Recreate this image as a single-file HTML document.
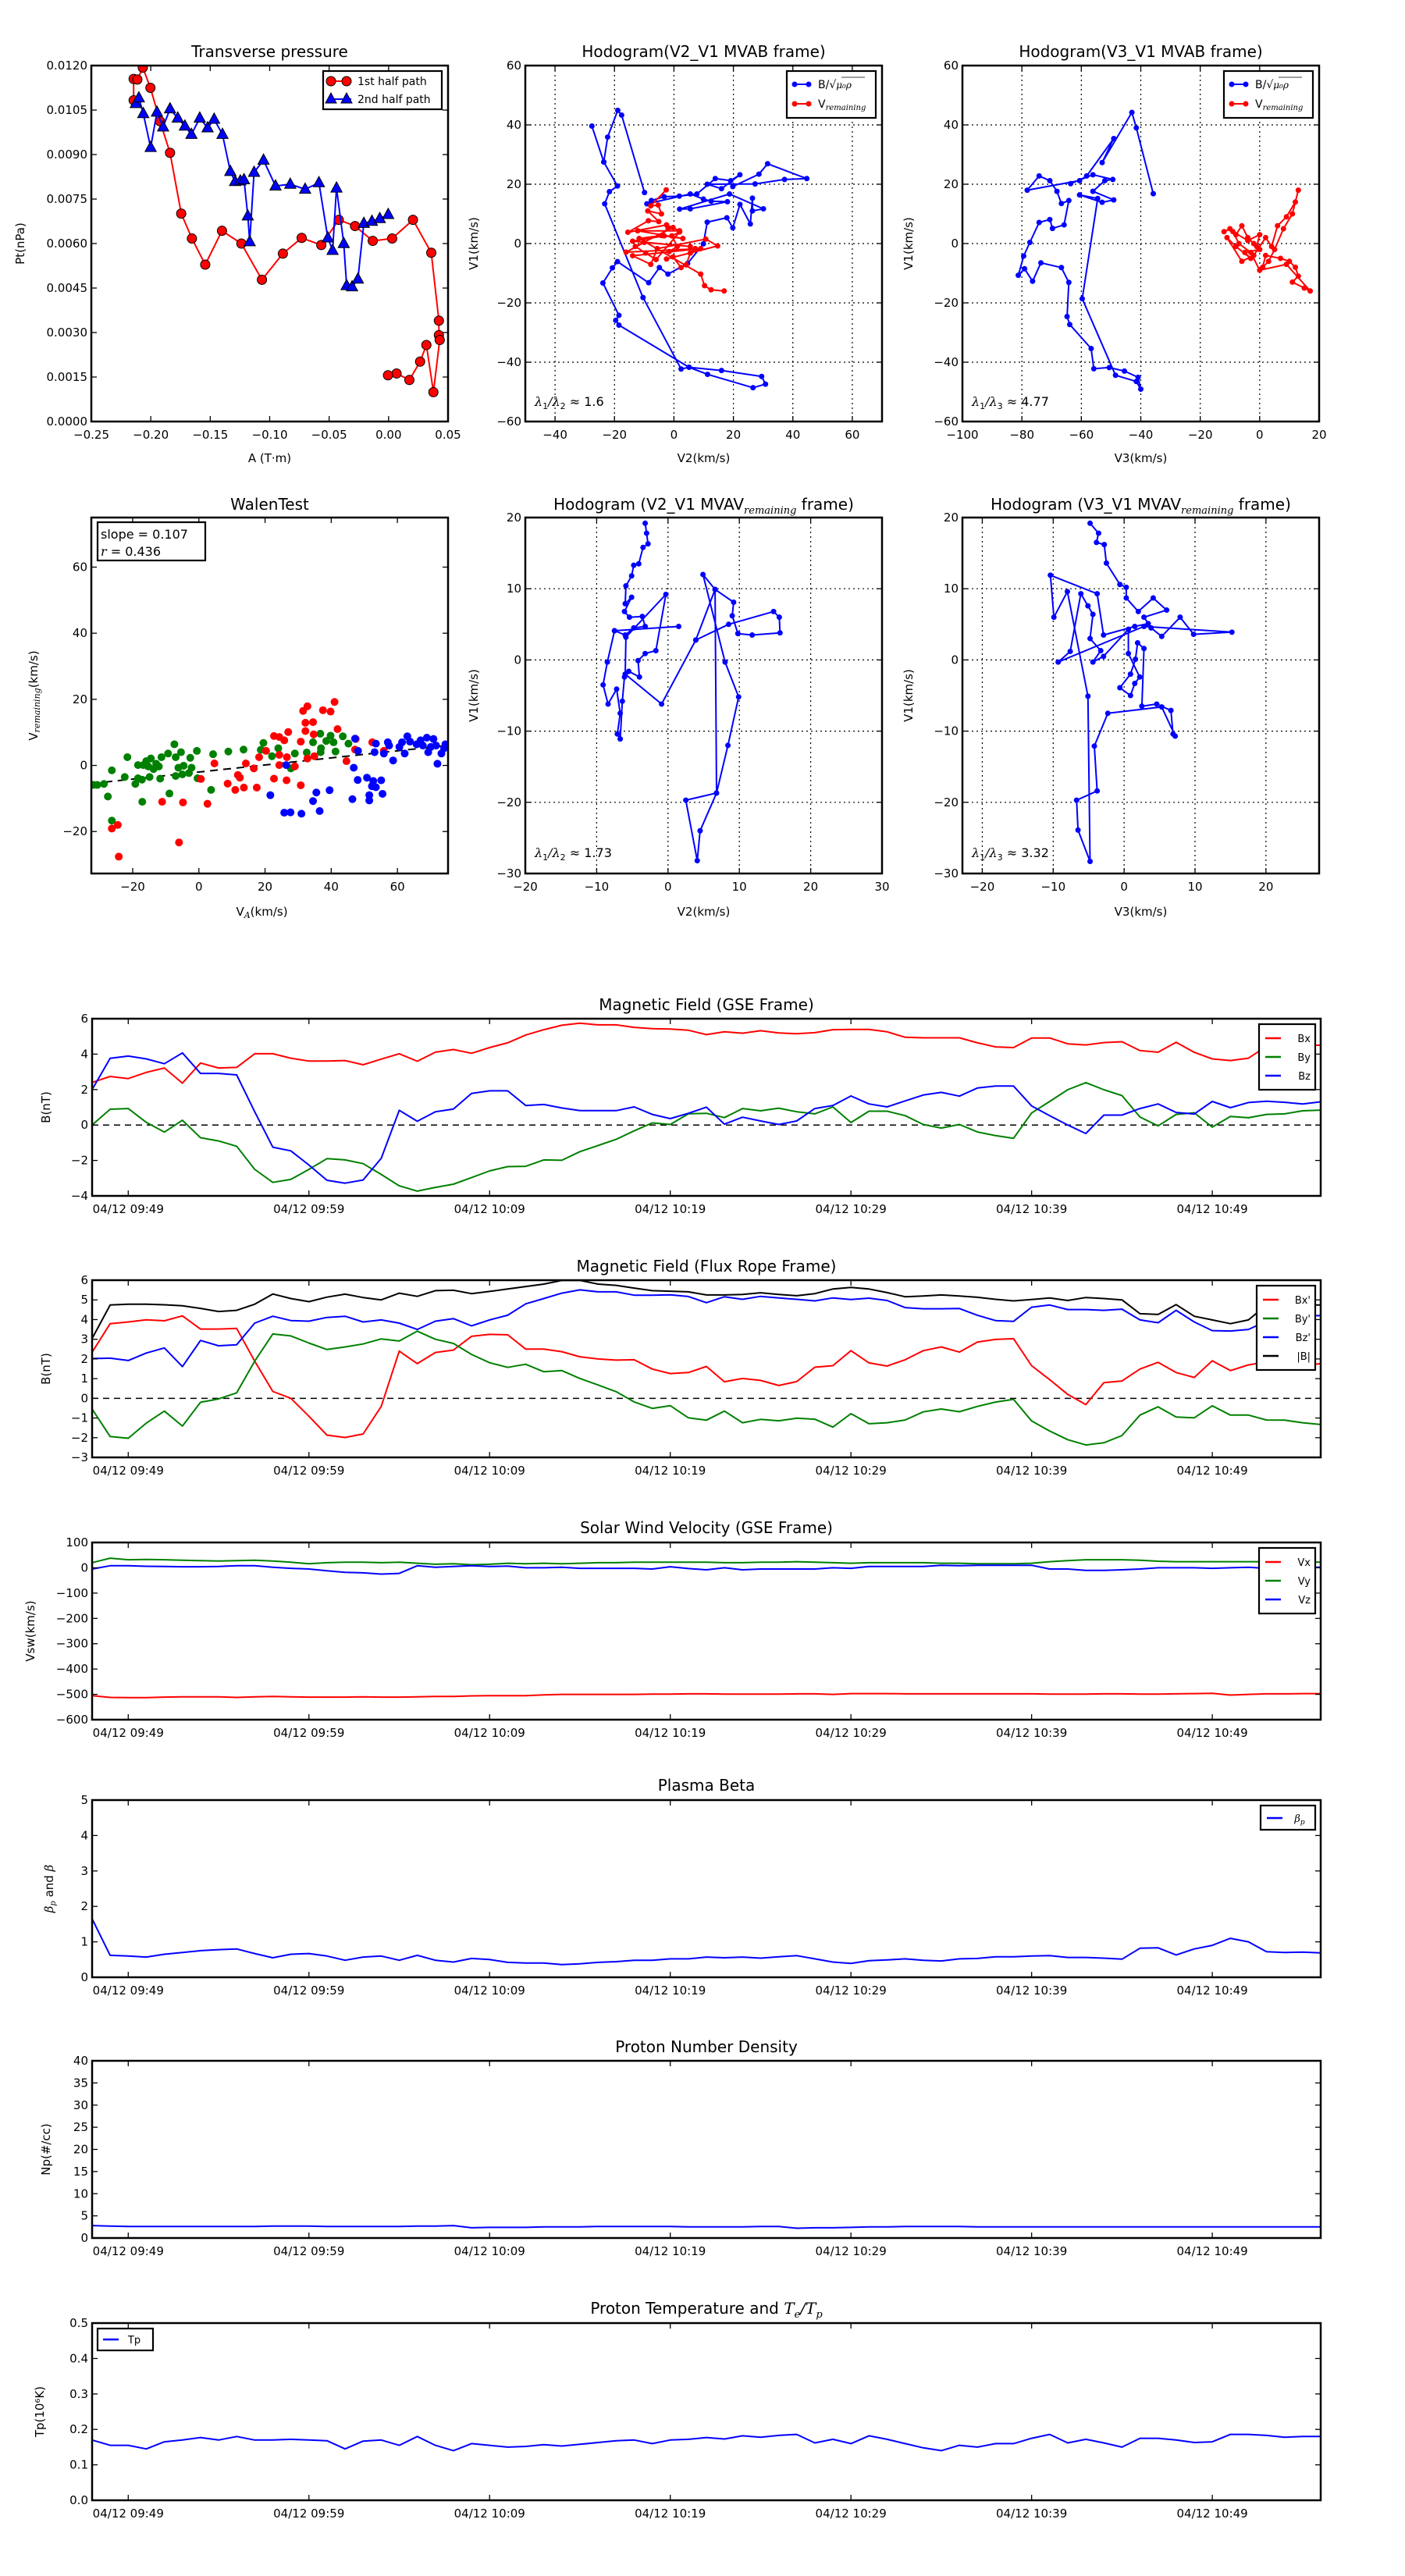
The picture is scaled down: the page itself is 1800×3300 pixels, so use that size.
<!DOCTYPE html>
<html><head><meta charset="utf-8"><style>
html,body{margin:0;padding:0;background:#fff}
svg{display:block}
text{font-family:"DejaVu Sans","Liberation Sans",sans-serif;fill:#000}
.math{font-family:"DejaVu Serif","Liberation Serif",serif;font-style:italic}
</style></head><body>
<svg id="fig" xmlns="http://www.w3.org/2000/svg" width="1800" height="3300" viewBox="0 0 1800 3300">
<rect width="1800" height="3300" fill="#fff"/>
</svg>
<script>
// ---------------- DATA ----------------
const pt1A=[-0.2144,-0.2144,-0.2113,-0.2067,-0.2003,-0.1922,-0.1838,-0.1744,-0.1654,-0.1542,-0.1401,-0.1238,-0.1065,-0.0889,-0.0731,-0.0566,-0.0419,-0.0282,-0.0133,0.003,0.0205,0.0359,0.0423,0.0423,0.043,0.0377,0.0318,0.0265,0.0175,0.0067,-0.0005];
const pt1P=[0.01083,0.01155,0.01153,0.01193,0.01125,0.01012,0.00906,0.00701,0.00617,0.00529,0.00643,0.0060,0.00478,0.00566,0.00619,0.00595,0.0068,0.00659,0.00609,0.00617,0.0068,0.00569,0.0034,0.00291,0.00275,0.00099,0.00258,0.00202,0.0014,0.00162,0.00156];
const pt2A=[-0.2126,-0.21,-0.2063,-0.2001,-0.1948,-0.1896,-0.1838,-0.1773,-0.1713,-0.1658,-0.1588,-0.1522,-0.1467,-0.1397,-0.1331,-0.1291,-0.1247,-0.1216,-0.1184,-0.1168,-0.1131,-0.1052,-0.0951,-0.0827,-0.0702,-0.0586,-0.0511,-0.0471,-0.0438,-0.0377,-0.0353,-0.0307,-0.0258,-0.0208,-0.014,-0.0074,-0.0003];
const pt2P=[0.01072,0.01091,0.01038,0.00924,0.01043,0.00993,0.01054,0.01023,0.00996,0.00968,0.01023,0.0099,0.01019,0.00968,0.00843,0.00809,0.00811,0.00815,0.00693,0.00606,0.0084,0.00881,0.00794,0.008,0.00783,0.00805,0.00619,0.00577,0.00787,0.006,0.00458,0.00454,0.0048,0.00668,0.00675,0.00684,0.00698];

const hodo1B=[[-9.9,17.2],[-17.6,43.3],[-18.9,44.9],[-22.3,35.9],[-23.6,27.5],[-27.6,39.6],[-23.6,27.5],[-19.0,19.4],[-21.7,17.5],[-23.3,13.4],[-10.4,-18.2],[2.4,-42.3],[5.1,-41.7],[16.0,-42.8],[29.5,-44.8],[30.8,-47.4],[26.6,-48.6],[11.3,-44.1],[5.1,-41.7],[-18.5,-27.5],[-19.6,-25.9],[-18.5,-24.2],[-23.9,-13.3],[-20.7,-8.2],[-19.0,-6.1],[-8.5,-13.2],[-4.9,-8.1],[-2.0,-10.3],[4.6,-6.7],[9.9,-0.1],[11.2,7.2],[17.8,8.7],[19.8,5.3],[22.2,13.2],[25.7,6.6],[26.4,15.3],[26.4,11.0],[30.1,11.7],[18.7,16.7],[1.9,11.6],[5.5,11.7],[18.0,14.1],[12.5,14.3],[9.9,15.0],[5.5,16.7],[-9.1,13.4],[-7.6,14.5],[-3.3,15.8],[1.8,16.0],[7.7,16.7],[13.9,21.9],[19.1,21.2],[22.2,23.2],[16.0,18.5],[11.2,20.0],[27.3,20.1],[37.2,21.6],[44.7,21.9],[31.5,26.9],[28.6,23.4],[19.8,19.2]];
const hodo1V=[[-2.6,18.1],[-7.8,12.7],[-5.3,13.0],[-4.2,10.0],[-8.8,11.0],[-5.1,7.4],[-8.6,7.7],[-15.5,3.8],[-2.5,6.3],[1.9,4.3],[-12.2,4.3],[3.0,1.7],[-3.3,2.6],[-13.9,0.8],[5.5,-1.0],[-10.0,0.4],[-16.1,-2.9],[9.0,-1.7],[-13.9,-4.1],[-7.8,-7.0],[-5.6,-1.7],[10.7,1.5],[14.7,-0.8],[-2.5,-5.2],[-0.3,-4.5],[2.4,-8.1],[4.1,-7.2],[5.5,-3.2],[7.2,-1.7],[-1.6,-2.7],[1.1,-1.0],[-0.7,2.6],[1.9,3.9],[-6.0,-5.4],[-9.5,-3.2],[-13.0,-1.0],[-0.3,5.4],[-2.0,5.2],[-4.2,2.7],[-11.7,1.7],[9.0,-10.3],[10.3,-14.2],[12.5,-15.6],[16.9,-16.0]];
const hodo2B=[[-35.8,16.8],[-41.5,39.0],[-43.0,44.2],[-53.0,27.3],[-49.1,35.4],[-58.2,22.8],[-60.6,21.2],[-78.2,18.0],[-74.2,22.8],[-70.6,21.2],[-68.2,17.6],[-66.7,13.5],[-64.2,14.5],[-65.8,6.3],[-69.7,5.1],[-70.6,8.1],[-74.2,7.1],[-77.3,0.4],[-79.4,-4.2],[-81.2,-10.7],[-79.1,-8.5],[-76.4,-12.7],[-73.6,-6.5],[-66.7,-8.1],[-64.2,-13.1],[-64.8,-24.6],[-63.9,-27.3],[-56.7,-35.4],[-55.8,-42.2],[-50.6,-41.8],[-45.5,-43.0],[-40.9,-45.1],[-40.0,-49.1],[-41.5,-46.5],[-48.5,-44.4],[-59.7,-18.6],[-54.5,15.2],[-60.6,16.4],[-53.0,13.9],[-49.1,14.7],[-56.1,17.6],[-52.1,21.2],[-49.4,21.6],[-56.1,23.2],[-63.6,20.2]];
const hodo2V=[[-12,4],[-10,5],[-8,3],[-6,6],[-4,2],[-2,0],[0,-2],[-5,-3],[-3,-5],[-8,-1],[-11,2],[-6,-6],[-2,-4],[2,2],[4,-1],[6,6],[9,9],[12,14],[13,18],[11,10],[8,5],[5,-2],[3,-6],[1,-8],[2,-4],[7,-5],[10,-6],[12,-8],[13,-11],[11,-13],[15,-15],[17,-16],[9,-7],[0,-9],[-3,-3],[-7,0],[-9,4],[-4,1],[0,3],[-1,-1]];
const hodo3B=[[-3.2,19.2],[-3.0,17.8],[-2.8,16.3],[-3.5,15.8],[-4.1,13.5],[-4.8,13.3],[-5.1,11.8],[-5.9,10.4],[-6.0,7.9],[-5.1,8.8],[-6.1,6.8],[-5.4,6.0],[-3.6,6.1],[-3.2,4.7],[-4.8,4.5],[-6.0,3.5],[-7.5,4.1],[1.5,4.7],[-7.5,4.1],[-8.5,-0.3],[-9.1,-3.5],[-8.4,-6.2],[-7.2,-4.1],[-6.7,-7.5],[-7.1,-10.4],[-6.7,-11.1],[-6.4,-5.8],[-6.1,-2.4],[-5.5,-1.6],[-4.0,-2.4],[-4.2,-0.1],[-3.2,0.9],[-1.7,1.3],[-0.3,9.2],[-5.9,3.2],[-6.0,-2.0],[-0.9,-6.2],[3.9,2.8],[6.6,9.9],[4.9,12.0],[8.0,-0.3],[9.9,-5.2],[8.4,-12.0],[6.8,-18.7],[2.5,-19.7],[4.1,-28.2],[4.5,-24.0],[6.8,-18.7],[6.6,9.9],[9.2,8.1],[9.0,6.2],[9.8,3.7],[11.8,3.5],[15.7,3.8],[15.6,6.0],[14.8,6.8],[8.5,5.0],[3.9,2.8]];
const hodo4B=[[-4.8,19.2],[-3.6,17.8],[-3.9,16.5],[-2.8,16.2],[-2.5,13.6],[-0.6,10.6],[0.3,10.2],[0.3,8.7],[2.0,6.8],[4.1,8.7],[6.0,7.0],[2.8,6.0],[3.8,4.5],[5.3,3.3],[7.9,6.0],[9.8,3.6],[15.2,3.9],[2.8,4.7],[-9.3,-0.3],[-7.6,1.2],[-6.1,9.3],[-5.1,7.6],[-4.4,6.4],[-4.8,3.0],[-3.3,1.3],[-4.4,-0.3],[-2.9,0.5],[0.6,4.3],[0.6,0.9],[2.2,-2.4],[1.5,-3.3],[0.9,-5.0],[-0.6,-3.9],[0.9,-2.0],[1.6,0.1],[1.9,2.4],[2.8,1.6],[2.5,-6.5],[4.6,-6.2],[6.6,-7.1],[6.9,-10.4],[7.2,-10.7],[5.3,-6.6],[-2.3,-7.5],[-4.2,-12.1],[-3.8,-18.4],[-6.7,-19.7],[-6.5,-23.9],[-4.8,-28.3],[-5.1,-5.1],[-8.0,9.6],[-9.9,6.0],[-10.4,11.9],[-3.8,9.3],[-2.9,3.5],[1.5,4.7],[3.4,5.1]];

const walenGreenX=[-31.9,-30.7,-28.7,-27.5,-26.3,-26.3,-22.4,-21.6,-19.2,-18.4,-18.4,-17.2,-17.1,-16.8,-15.9,-15.3,-14.9,-14.5,-13.7,-12.9,-12.1,-11.7,-11.3,-9.3,-8.9,-7.4,-7.0,-7.0,-6.2,-5.4,-5.0,-4.6,-3.0,-2.6,-2.2,-0.6,-0.4,3.7,4.3,8.9,13.5,18.7,19.5,22.1,24.0,27.8,29.0,32.6,34.5,36.7,36.9,36.8,38.5,39.8,40.7,41.3,43.5,45.2];
const walenGreenY=[-5.9,-5.9,-5.6,-9.4,-1.5,-16.7,-3.5,2.5,-5.6,0.1,-3.9,-4.3,-11.0,0.1,1.3,-0.3,-3.5,2.1,-1.1,0.5,-0.3,-4.0,2.5,3.6,-8.5,6.4,2.5,-3.2,-0.7,4.0,-2.7,-0.1,-2.3,2.3,-0.7,4.4,-3.9,-7.4,3.4,4.2,4.8,4.7,6.8,2.8,5.2,-0.9,3.6,3.9,7.0,9.6,5.2,4.0,7.4,9.0,7.0,4.2,8.8,6.6];
const walenRedX=[-26.3,-24.5,-24.2,-11.1,-6.0,-4.8,0.6,2.6,4.7,8.7,11.0,11.8,12.4,13.6,14.2,16.6,17.5,18.2,20.3,22.7,22.7,24.3,24.3,25.8,26.5,27.0,29.0,30.8,30.8,31.5,32.8,32.2,32.2,34.5,34.7,34.9,32.8,37.5,39.8,41.0,41.9,44.6,47.4,47.2,52.4,55.9,24.3,26.6];
const walenRedY=[-19.1,-18.0,-27.6,-11.0,-23.3,-11.2,-4.1,-11.6,0.6,-5.5,-7.4,-2.9,-3.7,-6.7,0.6,-0.9,-6.7,2.5,4.4,8.9,-4.0,8.6,0.1,7.6,-4.5,10.1,-0.3,7.2,-6.0,16.5,17.9,12.9,10.4,13.1,9.4,2.8,2.1,16.7,16.3,19.2,11.0,1.3,8.0,4.8,7.0,4.4,3.2,2.5];
const walenBlueX=[21.6,25.8,27.7,31.0,34.5,35.5,36.5,39.5,26.4,46.4,46.8,47.2,48.0,48.1,50.8,51.5,51.5,52.3,52.7,53.5,55.1,55.5,53.1,53.5,55.9,57.1,57.5,58.7,60.6,61.4,62.2,63.0,63.8,65.8,67.0,67.7,68.9,69.3,70.1,70.9,71.7,72.1,73.3,74.1,74.5];
const walenBlueY=[-9.0,-14.3,-14.2,-14.6,-10.8,-8.2,-13.8,-7.5,0.1,-10.2,-0.7,8.1,-4.4,4.4,-3.7,-9.0,-10.6,-6.3,-4.7,-6.6,-4.5,-8.6,4.0,6.6,3.6,7.0,6.0,1.5,5.6,7.0,3.6,8.8,7.2,6.4,7.6,6.0,8.4,4.0,5.6,8.0,6.0,0.5,3.6,5.2,6.4];
const walenSlope=0.107, walenIntercept=-2.0;

const timeLabels=["04/12 09:49","04/12 09:59","04/12 10:09","04/12 10:19","04/12 10:29","04/12 10:39","04/12 10:49"];
const timeTickMinutes=[2,12,22,32,42,52,62];
const Bx=[2.4,2.74,2.62,2.97,3.22,2.36,3.5,3.22,3.25,4.02,4.02,3.77,3.61,3.61,3.64,3.4,3.72,4.02,3.6,4.11,4.26,4.05,4.37,4.64,5.08,5.38,5.63,5.75,5.65,5.65,5.51,5.44,5.42,5.35,5.1,5.26,5.18,5.32,5.2,5.15,5.21,5.38,5.39,5.39,5.26,4.95,4.92,4.92,4.92,4.64,4.41,4.37,4.91,4.91,4.58,4.52,4.65,4.7,4.2,4.11,4.67,4.1,3.73,3.64,3.77,4.44,4.5,4.5,4.5];
const By=[0,0.89,0.93,0.15,-0.4,0.27,-0.72,-0.9,-1.2,-2.5,-3.24,-3.07,-2.5,-1.9,-1.97,-2.18,-2.79,-3.43,-3.73,-3.52,-3.34,-2.97,-2.59,-2.35,-2.33,-1.97,-1.99,-1.5,-1.16,-0.81,-0.33,0.12,0.03,0.63,0.66,0.42,0.93,0.8,0.95,0.75,0.63,1.02,0.14,0.78,0.78,0.53,0.03,-0.17,0.03,-0.39,-0.6,-0.75,0.68,1.33,1.99,2.39,1.99,1.66,0.45,-0.05,0.6,0.69,-0.12,0.48,0.41,0.6,0.63,0.8,0.84];
const Bz=[2.0,3.76,3.89,3.73,3.46,4.07,2.91,2.91,2.83,0.75,-1.25,-1.46,-2.26,-3.12,-3.28,-3.1,-1.88,0.83,0.21,0.75,0.9,1.78,1.93,1.93,1.1,1.16,0.96,0.81,0.81,0.81,1.02,0.6,0.36,0.66,1.01,0.05,0.44,0.23,0.03,0.23,0.93,1.1,1.64,1.19,1.02,1.36,1.69,1.84,1.63,2.09,2.2,2.2,1.08,0.53,0,-0.48,0.56,0.56,0.93,1.19,0.71,0.62,1.33,0.98,1.27,1.34,1.28,1.19,1.31];
const BxFR=[2.34,3.79,3.88,3.99,3.94,4.19,3.52,3.52,3.55,1.89,0.35,0,-0.91,-1.87,-1.99,-1.81,-0.41,2.4,1.76,2.33,2.45,3.15,3.25,3.23,2.5,2.5,2.37,2.11,2.0,1.94,1.96,1.49,1.26,1.31,1.62,0.84,1.01,0.91,0.65,0.85,1.58,1.66,2.42,1.8,1.64,1.96,2.42,2.61,2.35,2.86,2.99,3.03,1.66,0.95,0.2,-0.32,0.8,0.88,1.49,1.83,1.31,1.06,1.91,1.41,1.7,1.85,1.8,1.66,1.76];
const ByFR=[-0.54,-1.94,-2.03,-1.26,-0.65,-1.41,-0.2,-0.03,0.28,1.89,3.27,3.17,2.81,2.48,2.61,2.76,3.02,2.91,3.41,3.0,2.79,2.23,1.81,1.57,1.73,1.35,1.41,1.01,0.68,0.34,-0.18,-0.51,-0.37,-0.99,-1.11,-0.65,-1.24,-1.07,-1.14,-1.01,-1.06,-1.46,-0.78,-1.29,-1.24,-1.1,-0.69,-0.54,-0.68,-0.41,-0.19,-0.05,-1.15,-1.66,-2.1,-2.37,-2.26,-1.89,-0.85,-0.43,-0.95,-0.99,-0.38,-0.85,-0.85,-1.1,-1.11,-1.24,-1.33];
const BzFR=[2.02,2.04,1.92,2.3,2.56,1.61,2.94,2.67,2.72,3.82,4.17,3.95,3.92,4.11,4.17,3.88,3.98,3.82,3.5,3.92,4.05,3.68,3.98,4.22,4.8,5.07,5.34,5.51,5.41,5.41,5.24,5.24,5.26,5.17,4.86,5.16,5.03,5.18,5.1,5.03,4.95,5.1,5.02,5.09,4.97,4.61,4.55,4.55,4.56,4.22,3.95,3.91,4.63,4.74,4.51,4.51,4.47,4.53,3.98,3.84,4.47,3.88,3.44,3.42,3.5,3.92,4.2,4.2,4.2];
const Bmag=[3.04,4.74,4.78,4.78,4.75,4.7,4.57,4.41,4.47,4.78,5.3,5.07,4.91,5.14,5.29,5.12,5.0,5.34,5.18,5.47,5.49,5.32,5.43,5.55,5.68,5.8,5.99,5.99,5.8,5.74,5.6,5.47,5.44,5.41,5.25,5.25,5.28,5.36,5.28,5.21,5.32,5.55,5.63,5.55,5.37,5.16,5.2,5.25,5.2,5.13,5.03,4.95,5.02,5.1,4.97,5.12,5.07,5.0,4.3,4.26,4.76,4.17,3.98,3.79,3.98,4.74,4.74,4.74,4.74];
const Vx=[-505,-512,-513,-513,-511,-510,-510,-510,-512,-510,-508,-510,-511,-511,-511,-510,-511,-511,-510,-508,-508,-506,-505,-505,-505,-502,-500,-500,-500,-500,-500,-499,-499,-498,-498,-499,-499,-499,-499,-498,-498,-500,-497,-497,-497,-498,-498,-498,-498,-498,-498,-498,-498,-499,-499,-499,-498,-498,-499,-499,-498,-497,-496,-503,-500,-498,-498,-497,-497];
const Vy=[20,38,32,33,32,30,28,27,28,30,27,22,16,20,22,22,20,22,18,14,16,12,14,18,16,18,16,18,20,20,22,22,22,22,22,20,20,22,22,24,22,20,18,20,20,20,20,18,18,16,16,16,18,24,28,32,32,32,30,26,24,24,24,24,24,24,24,24,22];
const Vz=[-5,8,8,6,5,4,4,5,8,8,2,-2,-5,-12,-18,-20,-25,-22,8,2,5,8,5,7,0,0,2,-2,-2,-2,-2,-5,4,-3,-8,0,-8,-5,-5,-5,-5,0,-2,5,5,5,5,10,8,10,10,10,10,-5,-5,-10,-10,-8,-5,0,0,0,-2,0,2,-2,0,2,2];
const betaP=[1.65,0.62,0.6,0.57,0.65,0.7,0.75,0.78,0.8,0.67,0.55,0.65,0.67,0.6,0.48,0.57,0.6,0.48,0.62,0.48,0.43,0.53,0.5,0.42,0.4,0.4,0.36,0.38,0.42,0.44,0.48,0.48,0.52,0.52,0.57,0.55,0.57,0.54,0.58,0.61,0.52,0.43,0.39,0.47,0.49,0.52,0.48,0.46,0.52,0.53,0.58,0.58,0.6,0.61,0.56,0.56,0.54,0.51,0.82,0.83,0.63,0.8,0.9,1.1,1.0,0.72,0.7,0.71,0.69];
const Np=[2.8,2.7,2.6,2.6,2.6,2.6,2.6,2.6,2.6,2.6,2.7,2.7,2.7,2.6,2.6,2.6,2.6,2.6,2.7,2.7,2.8,2.3,2.4,2.4,2.4,2.5,2.5,2.5,2.6,2.6,2.6,2.6,2.6,2.5,2.5,2.5,2.5,2.6,2.6,2.2,2.3,2.3,2.4,2.5,2.5,2.6,2.6,2.6,2.6,2.5,2.5,2.5,2.5,2.5,2.5,2.5,2.5,2.5,2.5,2.5,2.5,2.5,2.5,2.5,2.5,2.5,2.5,2.5,2.5];
const Tp=[0.17,0.155,0.155,0.145,0.165,0.17,0.177,0.17,0.18,0.17,0.17,0.172,0.17,0.168,0.145,0.167,0.17,0.155,0.18,0.155,0.14,0.16,0.155,0.15,0.152,0.157,0.153,0.158,0.163,0.168,0.17,0.16,0.17,0.172,0.177,0.173,0.182,0.178,0.183,0.186,0.162,0.172,0.16,0.182,0.172,0.16,0.148,0.14,0.155,0.15,0.16,0.16,0.175,0.186,0.162,0.172,0.162,0.15,0.175,0.175,0.17,0.163,0.165,0.186,0.186,0.183,0.178,0.18,0.18];

// ---------------- HELPERS ----------------
const NS='http://www.w3.org/2000/svg';
const svg=document.getElementById('fig');
let clipId=0;
function el(tag,attrs,parent){const e=document.createElementNS(NS,tag);for(const k in attrs)e.setAttribute(k,attrs[k]);(parent||svg).appendChild(e);return e;}
function txt(s,x,y,size,anchor,parent,extra){const t=el('text',Object.assign({x:x,y:y,'font-size':size,'text-anchor':anchor||'middle'},extra||{}),parent);t.textContent=s;return t;}
function fmtMinus(v){return String(v).replace('-','\u2212');}

function makeAxes(c){
  const g=el('g',{});
  
  
  const sx=v=>c.x0+(v-c.xmin)/(c.xmax-c.xmin)*c.w;
  const sy=v=>c.y0+c.h-(v-c.ymin)/(c.ymax-c.ymin)*c.h;
  const id='clip'+(clipId++);
  const cp=el('clipPath',{id:id},g);el('rect',{x:c.x0,y:c.y0,width:c.w,height:c.h},cp);
  if(c.grid){
    c.xticks.forEach(v=>{const l=el('line',{x1:sx(v),x2:sx(v),y1:c.y0,y2:c.y0+c.h,stroke:'#000','stroke-width':1.2,'stroke-dasharray':'2,4'},g);});
    c.yticks.forEach(v=>{const l=el('line',{x1:c.x0,x2:c.x0+c.w,y1:sy(v),y2:sy(v),stroke:'#000','stroke-width':1.2,'stroke-dasharray':'2,4'},g);});
  }
  const plot=el('g',{'clip-path':'url(#'+id+')'},g);
  
  
  const over=el('g',{},g);
  const tl=7;
  const xl=el('g',{},over);
  
  
  c.xticks.forEach((v,i)=>{const x=sx(v);
    el('line',{x1:x,x2:x,y1:c.y0+c.h,y2:c.y0+c.h-tl,stroke:'#000','stroke-width':1.3},over);
    el('line',{x1:x,x2:x,y1:c.y0,y2:c.y0+tl,stroke:'#000','stroke-width':1.3},over);
    txt(c.xlabels?c.xlabels[i]:(c.xfmt?c.xfmt(v):fmtMinus(v)),x,c.y0+c.h+22,15,'middle',xl);});
  const yl=el('g',{},over);
  
  
  c.yticks.forEach(v=>{const y=sy(v);
    el('line',{x1:c.x0,x2:c.x0+tl,y1:y,y2:y,stroke:'#000','stroke-width':1.3},over);
    el('line',{x1:c.x0+c.w,x2:c.x0+c.w-tl,y1:y,y2:y,stroke:'#000','stroke-width':1.3},over);
    txt(c.yfmt?c.yfmt(v):fmtMinus(v),c.x0-5,y+5,15,'end',yl);});
  const fr=el('rect',{x:c.x0,y:c.y0,width:c.w,height:c.h,fill:'none',stroke:'#000','stroke-width':2.5},over);
  
  
  return {sx,sy,plot,g,over,c};
}
function polyline(ax,xs,ys,color,w,name){
  const pts=xs.map((x,i)=>ax.sx(x).toFixed(1)+','+ax.sy(ys[i]).toFixed(1)).join(' ');
  const p=el('polyline',{points:pts,fill:'none',stroke:color,'stroke-width':w||2,'stroke-linejoin':'round'},ax.plot);
  
  
  return p;
}
function dots(ax,xs,ys,color,r,name,stroke){
  const g=el('g',{},ax.plot);
  
  
  xs.forEach((x,i)=>{el('circle',{cx:ax.sx(x),cy:ax.sy(ys[i]),r:r,fill:color,stroke:stroke||'none','stroke-width':1},g);});
  return g;
}
function tris(ax,xs,ys,color,s,name){
  const g=el('g',{},ax.plot);
  
  
  xs.forEach((x,i)=>{const cx=ax.sx(x),cy=ax.sy(ys[i]);
    el('polygon',{points:`${cx},${cy-s} ${cx-s*0.9},${cy+s*0.65} ${cx+s*0.9},${cy+s*0.65}`,fill:color,stroke:'#000','stroke-width':1},g);});
  return g;
}
function title(s,x,y,name){const t=txt(s,x,y,20,'middle');return t;}
function ylabel(s,x,y,name){const t=txt(s,x,y,15,'middle',null,{transform:`rotate(-90 ${x} ${y})`});return t;}
function xlabel(s,x,y,name){const t=txt(s,x,y,15,'middle');return t;}
function legendBox(x,y,w,h,name){const g=el('g',{});el('rect',{x:x,y:y,width:w,height:h,fill:'#fff',stroke:'#000','stroke-width':2.2},g);return g;}
function pairsX(a){return a.map(p=>p[0]);}
function pairsY(a){return a.map(p=>p[1]);}
function range(a,b,s){const r=[];for(let v=a;v<=b+1e-9;v+=s)r.push(+v.toFixed(6));return r;}

// ---------------- ROW 1 ----------------
const colX=[117,673,1233], colW=457, row1Y=84, row2Y=663, rowH=456;
// Transverse pressure
const ax1=makeAxes({name:'transverse-pressure-chart',x0:colX[0],y0:row1Y,w:colW,h:rowH,xmin:-0.25,xmax:0.05,ymin:0,ymax:0.012,xticks:range(-0.25,0.05,0.05),yticks:range(0,0.012,0.0015),xfmt:v=>fmtMinus(v.toFixed(2)),yfmt:v=>v.toFixed(4)});
title('Transverse pressure',colX[0]+colW/2,73,'transverse-pressure-title');
ylabel('Pt(nPa)',31,row1Y+rowH/2,'pt-y-axis-title');
xlabel('A (T·m)',colX[0]+colW/2,592,'a-x-axis-title');
polyline(ax1,pt1A,pt1P,'#f00',2,'first-half-path-line');
dots(ax1,pt1A,pt1P,'#f00',6,'first-half-path-markers','#000');
polyline(ax1,pt2A,pt2P,'#00f',2,'second-half-path-line');
tris(ax1,pt2A,pt2P,'#00f',8,'second-half-path-markers');
{const lg=legendBox(414,91,152,49,'pressure-legend');
 el('line',{x1:420,x2:450,y1:104,y2:104,stroke:'#f00','stroke-width':2},lg);
 el('circle',{cx:424,cy:104,r:6,fill:'#f00',stroke:'#000'},lg);el('circle',{cx:444,cy:104,r:6,fill:'#f00',stroke:'#000'},lg);
 txt('1st half path',458,109,14,'start',lg);
 el('line',{x1:420,x2:450,y1:127,y2:127,stroke:'#00f','stroke-width':2},lg);
 el('polygon',{points:'424,119 417,132 431,132',fill:'#00f',stroke:'#000'},lg);el('polygon',{points:'444,119 437,132 451,132',fill:'#00f',stroke:'#000'},lg);
 txt('2nd half path',458,132,14,'start',lg);}

function hodoLegend(x,y,name){
  const lg=legendBox(x,y,114,60,name);
  el('line',{x1:x+8,x2:x+30,y1:y+17,y2:y+17,stroke:'#00f','stroke-width':2},lg);
  el('circle',{cx:x+10,cy:y+17,r:3.5,fill:'#00f'},lg);el('circle',{cx:x+28,cy:y+17,r:3.5,fill:'#00f'},lg);
  const t1=txt('B/√',x+40,y+22,14,'start',lg);const ts=el('tspan',{class:'math','font-size':12},t1);ts.textContent='μ₀ρ';
  el('line',{x1:x+70,x2:x+100,y1:y+8,y2:y+8,stroke:'#000','stroke-width':0.8},lg);
  el('line',{x1:x+8,x2:x+30,y1:y+42,y2:y+42,stroke:'#f00','stroke-width':2},lg);
  el('circle',{cx:x+10,cy:y+42,r:3.5,fill:'#f00'},lg);el('circle',{cx:x+28,cy:y+42,r:3.5,fill:'#f00'},lg);
  const t2=txt('V',x+40,y+47,14,'start',lg);const ts2=el('tspan',{class:'math','font-size':10,dy:3},t2);ts2.textContent='remaining';
}
function lambdaText(x,y,sub,val,name){
  const t=txt('',x,y,16,'start');
  
  
  const a=el('tspan',{class:'math'},t);a.textContent='λ';
  const b=el('tspan',{'font-size':11,dy:4},t);b.textContent='1';
  const c=el('tspan',{dy:-4,class:'math'},t);c.textContent='/λ';
  const d=el('tspan',{'font-size':11,dy:4},t);d.textContent=sub;
  const e=el('tspan',{dy:-4},t);e.textContent=' ≈ '+val;
}
// Hodogram V2_V1 MVAB
const ax2=makeAxes({name:'hodogram-v2-v1-mvab-chart',x0:colX[1],y0:row1Y,w:colW,h:rowH,xmin:-50,xmax:70,ymin:-60,ymax:60,xticks:range(-40,60,20),yticks:range(-60,60,20),grid:true});
title('Hodogram(V2_V1 MVAB frame)',colX[1]+colW/2,73,'hodogram-v2-mvab-title');
ylabel('V1(km/s)',612,row1Y+rowH/2,'v1-y-axis-title');
xlabel('V2(km/s)',colX[1]+colW/2,592,'v2-x-axis-title');
polyline(ax2,pairsX(hodo1B),pairsY(hodo1B),'#00f',2,'b-alfven-path');
dots(ax2,pairsX(hodo1B),pairsY(hodo1B),'#00f',3.5,'b-alfven-points');
polyline(ax2,pairsX(hodo1V),pairsY(hodo1V),'#f00',2,'v-remaining-path');
dots(ax2,pairsX(hodo1V),pairsY(hodo1V),'#f00',3.5,'v-remaining-points');
hodoLegend(1008,91,'hodogram-v2-legend');
lambdaText(685,520,'2','1.6','eigenvalue-ratio-label');
// Hodogram V3_V1 MVAB
const ax3=makeAxes({name:'hodogram-v3-v1-mvab-chart',x0:colX[2],y0:row1Y,w:colW,h:rowH,xmin:-100,xmax:20,ymin:-60,ymax:60,xticks:range(-100,20,20),yticks:range(-60,60,20),grid:true});
title('Hodogram(V3_V1 MVAB frame)',colX[2]+colW/2,73,'hodogram-v3-mvab-title');
ylabel('V1(km/s)',1169,row1Y+rowH/2,'v1-y-axis-title');
xlabel('V3(km/s)',colX[2]+colW/2,592,'v3-x-axis-title');
polyline(ax3,pairsX(hodo2B),pairsY(hodo2B),'#00f',2,'b-alfven-path');
dots(ax3,pairsX(hodo2B),pairsY(hodo2B),'#00f',3.5,'b-alfven-points');
polyline(ax3,pairsX(hodo2V),pairsY(hodo2V),'#f00',2,'v-remaining-path');
dots(ax3,pairsX(hodo2V),pairsY(hodo2V),'#f00',3.5,'v-remaining-points');
hodoLegend(1568,91,'hodogram-v3-legend');
lambdaText(1245,520,'3','4.77','eigenvalue-ratio-label');

// ---------------- ROW 2 ----------------
const ax4=makeAxes({name:'walen-test-chart',x0:colX[0],y0:row2Y,w:colW,h:rowH,xmin:-32.5,xmax:75.3,ymin:-32.7,ymax:75,xticks:range(-20,60,20),yticks:range(-20,60,20)});
title('WalenTest',colX[0]+colW/2,653,'walen-test-title');
{const t=txt('V',48,row2Y+rowH/2,15,'middle',null,{transform:`rotate(-90 48 ${row2Y+rowH/2})`});
 const s=el('tspan',{class:'math','font-size':11,dy:3},t);s.textContent='remaining';const s2=el('tspan',{dy:-3},t);s2.textContent='(km/s)';}
{const t=txt('V',colX[0]+colW/2-10,1173,15,'middle');
 const s=el('tspan',{class:'math','font-size':11,dy:3},t);s.textContent='A';const s2=el('tspan',{dy:-3},t);s2.textContent='(km/s)';}
{const xs=[ax4.c.xmin,ax4.c.xmax];const l=el('line',{x1:ax4.sx(xs[0]),y1:ax4.sy(walenSlope*xs[0]+walenIntercept),x2:ax4.sx(xs[1]),y2:ax4.sy(walenSlope*xs[1]+walenIntercept),stroke:'#000','stroke-width':2,'stroke-dasharray':'10,7'},ax4.plot);}
dots(ax4,walenGreenX,walenGreenY,'#008000',5,'walen-green-points');
dots(ax4,walenRedX,walenRedY,'#f00',5,'walen-red-points');
dots(ax4,walenBlueX,walenBlueY,'#00f',5,'walen-blue-points');
{const lg=legendBox(125,669,138,49,'walen-stats-box');
 txt('slope = 0.107',129,690,16,'start',lg);
 const t=txt('',129,712,16,'start',lg);const a=el('tspan',{class:'math'},t);a.textContent='r';const b=el('tspan',{},t);b.textContent=' = 0.436';}

function mvavTitle(s1,x,name){const t=txt(s1,x,653,20,'middle');
 const a=el('tspan',{class:'math','font-size':13,dy:5},t);a.textContent='remaining';const b=el('tspan',{dy:-5},t);b.textContent=' frame)';}
const ax5=makeAxes({name:'hodogram-v2-v1-mvav-chart',x0:colX[1],y0:row2Y,w:colW,h:rowH,xmin:-20,xmax:30,ymin:-30,ymax:20,xticks:range(-20,30,10),yticks:range(-30,20,10),grid:true});
mvavTitle('Hodogram (V2_V1 MVAV',colX[1]+colW/2,'hodogram-v2-mvav-title');
ylabel('V1(km/s)',612,row2Y+rowH/2,'v1-y-axis-title');
xlabel('V2(km/s)',colX[1]+colW/2,1173,'v2-x-axis-title');
polyline(ax5,pairsX(hodo3B),pairsY(hodo3B),'#00f',2,'b-alfven-path');
dots(ax5,pairsX(hodo3B),pairsY(hodo3B),'#00f',3.5,'b-alfven-points');
lambdaText(685,1098,'2','1.73','eigenvalue-ratio-label');
const ax6=makeAxes({name:'hodogram-v3-v1-mvav-chart',x0:colX[2],y0:row2Y,w:colW,h:rowH,xmin:-22.8,xmax:27.5,ymin:-30,ymax:20,xticks:range(-20,20,10),yticks:range(-30,20,10),grid:true});
mvavTitle('Hodogram (V3_V1 MVAV',colX[2]+colW/2,'hodogram-v3-mvav-title');
ylabel('V1(km/s)',1169,row2Y+rowH/2,'v1-y-axis-title');
xlabel('V3(km/s)',colX[2]+colW/2,1173,'v3-x-axis-title');
polyline(ax6,pairsX(hodo4B),pairsY(hodo4B),'#00f',2,'b-alfven-path');
dots(ax6,pairsX(hodo4B),pairsY(hodo4B),'#00f',3.5,'b-alfven-points');
lambdaText(1245,1098,'3','3.32','eigenvalue-ratio-label');

// ---------------- TIME SERIES ----------------
const tsX=118, tsW=1574, tsH=227;
function timeAxes(name,y0,ymin,ymax,yticks,yfmt){
  return makeAxes({name:name,x0:tsX,y0:y0,w:tsW,h:tsH,xmin:0,xmax:68,ymin:ymin,ymax:ymax,xticks:timeTickMinutes,xlabels:timeLabels,yticks:yticks,yfmt:yfmt});
}
function series(ax,vals,color,name){return polyline(ax,vals.map((v,i)=>i),vals,color,2,name);}
function zeroLine(ax){const l=el('line',{x1:ax.sx(0),x2:ax.sx(68),y1:ax.sy(0),y2:ax.sy(0),stroke:'#000','stroke-width':1.5,'stroke-dasharray':'8,6'},ax.plot);}
function tsLegend(x,y,w,items,name){
  const lg=legendBox(x,y,w,items.length*24+12,name);
  items.forEach((it,i)=>{const yy=y+18+i*24;el('line',{x1:x+8,x2:x+28,y1:yy,y2:yy,stroke:it[1],'stroke-width':2.5},lg);
    const t=txt(it[0],x+w-6,yy+5,13,'end',lg);});
}
const gse=timeAxes('magnetic-field-gse-chart',1305,-4,6,range(-4,6,2));
title('Magnetic Field (GSE Frame)',905,1294,'magnetic-field-gse-title');
ylabel('B(nT)',64,1305+tsH/2,'b-y-axis-title');
zeroLine(gse);
series(gse,Bx,'#f00','bx-line');series(gse,By,'#008000','by-line');series(gse,Bz,'#00f','bz-line');
tsLegend(1613,1312,72,[['Bx','#f00'],['By','#008000'],['Bz','#00f']],'gse-legend');

const fr=timeAxes('magnetic-field-flux-rope-chart',1640,-3,6,range(-3,6,1));
title('Magnetic Field (Flux Rope Frame)',905,1629,'magnetic-field-flux-rope-title');
ylabel('B(nT)',64,1640+tsH/2,'b-y-axis-title');
zeroLine(fr);
series(fr,BxFR,'#f00','bx-prime-line');series(fr,ByFR,'#008000','by-prime-line');series(fr,BzFR,'#00f','bz-prime-line');series(fr,Bmag,'#000','b-magnitude-line');
tsLegend(1610,1647,75,[["Bx'",'#f00'],["By'",'#008000'],["Bz'",'#00f'],['|B|','#000']],'flux-rope-legend');

const vs=timeAxes('solar-wind-velocity-chart',1976,-600,100,range(-600,100,100));
title('Solar Wind Velocity (GSE Frame)',905,1964,'solar-wind-velocity-title');
ylabel('Vsw(km/s)',44,1976+tsH/2,'vsw-y-axis-title');
series(vs,Vx,'#f00','vx-line');series(vs,Vy,'#008000','vy-line');series(vs,Vz,'#00f','vz-line');
tsLegend(1613,1983,72,[['Vx','#f00'],['Vy','#008000'],['Vz','#00f']],'velocity-legend');

const bt=timeAxes('plasma-beta-chart',2306,0,5,range(0,5,1));
title('Plasma Beta',905,2294,'plasma-beta-title');
{const x=68,y=2306+tsH/2;const t=txt('',x,y,15,'middle',null,{transform:`rotate(-90 ${x} ${y})`});
 const a=el('tspan',{class:'math'},t);a.textContent='β';const b=el('tspan',{class:'math','font-size':10,dy:3},t);b.textContent='p';const c=el('tspan',{dy:-3},t);c.textContent=' and ';const d=el('tspan',{class:'math'},t);d.textContent='β';}
series(bt,betaP,'#00f','beta-p-line');
{const lg=legendBox(1615,2313,70,31,'beta-legend');el('line',{x1:1623,x2:1643,y1:2329,y2:2329,stroke:'#00f','stroke-width':2.5},lg);
 const t=txt('',1665,2334,13,'middle',lg);const a=el('tspan',{class:'math'},t);a.textContent='β';const b=el('tspan',{class:'math','font-size':9,dy:3},t);b.textContent='p';}

const np=timeAxes('proton-density-chart',2640,0,40,range(0,40,5));
title('Proton Number Density',905,2629,'proton-density-title');
ylabel('Np(#/cc)',64,2640+tsH/2,'np-y-axis-title');
series(np,Np,'#00f','np-line');

const tp=timeAxes('proton-temperature-chart',2976,0,0.5,range(0,0.5,0.1),v=>v.toFixed(1));
{const t=txt('Proton Temperature and ',905,2964,20,'middle');
 const a=el('tspan',{class:'math'},t);a.textContent='T';const b=el('tspan',{class:'math','font-size':13,dy:5},t);b.textContent='e';
 const c=el('tspan',{class:'math',dy:-5},t);c.textContent='/T';const d=el('tspan',{class:'math','font-size':13,dy:5},t);d.textContent='p';}
ylabel('Tp(10⁶K)',56,2976+tsH/2,'tp-y-axis-title');
series(tp,Tp,'#00f','tp-line');
{const lg=legendBox(125,2983,71,28,'tp-legend');el('line',{x1:132,x2:152,y1:2997,y2:2997,stroke:'#00f','stroke-width':2.5},lg);txt('Tp',172,3002,13,'middle',lg);}
</script>
</body></html>
